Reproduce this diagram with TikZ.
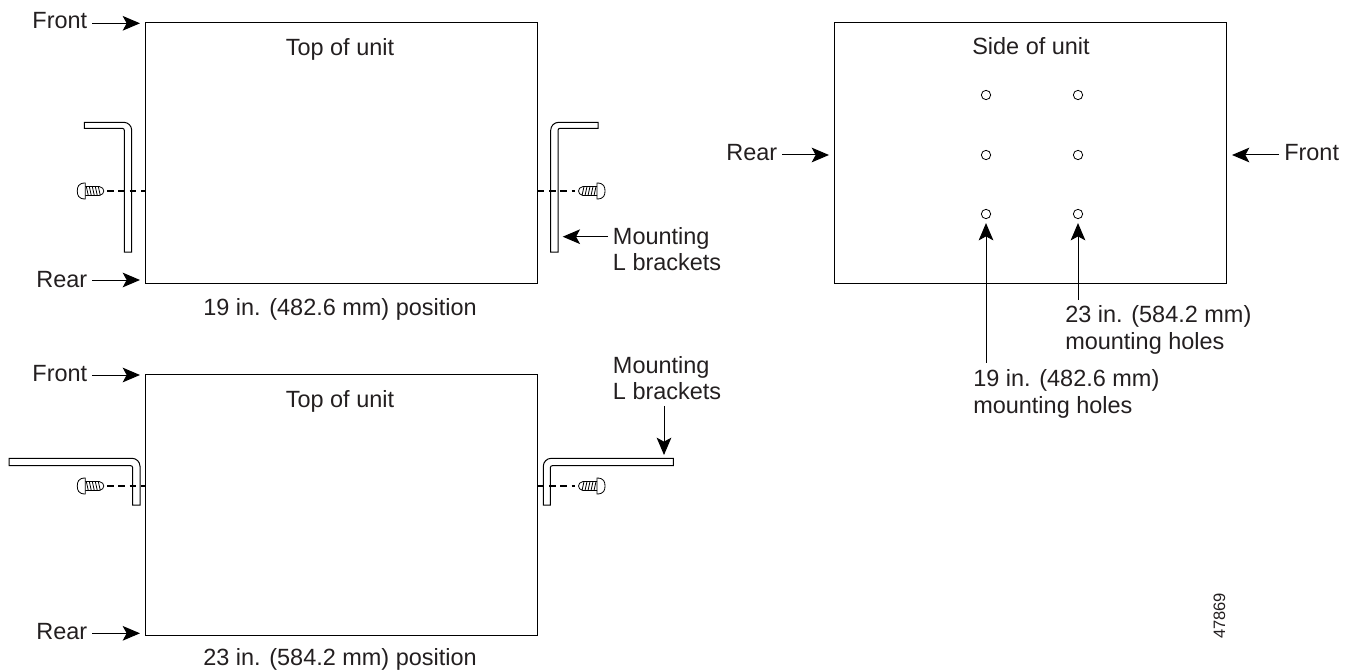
\documentclass[tikz,border=0pt]{standalone}
\usepackage{fontspec}
\setmainfont{Liberation Sans}
\usetikzlibrary{arrows.meta}
\definecolor{inkc}{HTML}{231F20}
\tikzset{
  x=0.75pt,y=-0.75pt,
  lbl/.style={inner sep=0pt,font=\fontsize{17.6pt}{20pt}\selectfont,align=left,text=inkc},
  unitbox/.style={draw=black,line width=0.75pt,minimum width=294pt,minimum height=195.8pt,inner sep=0pt,outer sep=0pt},
  hole/.style={circle,draw=black,line width=0.6pt,minimum size=7pt,inner sep=0pt},
  arr/.style={draw=black,line width=0.75pt,-{Stealth[length=13pt,width=11pt,inset=3pt]}},
  brk/.style={draw=black,line width=0.75pt},
  dsh/.style={draw=black,line width=0.8pt,dash pattern=on 5pt off 3.5pt},
  pics/screw/.style={code={
    \draw[line width=0.6pt] (8,-8) .. controls (1,-8) and (0,-4) .. (0,0) .. controls (0,4) and (1,8) .. (8,8) -- cycle;
    \draw[line width=0.6pt] (8,-4.5) -- (22,-4.5) .. controls (28,-3.5) and (28,3.5) .. (22,4.5) -- (8,4.5);
    \foreach \i in {9,12,...,21} {\draw[line width=0.6pt] (\i,-4.5) -- (\i+2,4.5);}
  }}
}
\begin{document}
\begin{tikzpicture}
\useasboundingbox (0,0) rectangle (1351,670);
% units
\node[unitbox,anchor=north west] (u1) at (145.7,22.6) {};
\node[unitbox,anchor=north west] (u2) at (145.7,374) {};
\node[unitbox,anchor=north west] (u3) at (834,22.6) {};
\node[lbl,anchor=base] (t1) at (340,55.5) {Top of unit};
\node[lbl,anchor=base] (t2) at (340,407) {Top of unit};
\node[lbl,anchor=base] (t3) at (1031,54.5) {Side of unit};
\node[lbl,anchor=base] (c1) at (340,315) {19 in. (482.6 mm) position};
\node[lbl,anchor=base] (c2) at (340,665) {23 in. (584.2 mm) position};
% front/rear labels
\node[lbl,anchor=base east] (f1) at (87.5,29) {Front};
\node[lbl,anchor=base east] (r1) at (87.5,287) {Rear};
\node[lbl,anchor=base east] (f2) at (87.5,381) {Front};
\node[lbl,anchor=base east] (r2) at (87.5,639) {Rear};
\node[lbl,anchor=base east] (r3) at (777.5,161) {Rear};
\node[lbl,anchor=base west] (f3) at (1284,161) {Front};
\coordinate (af1) at (140,23.3);
\coordinate (ar1) at (140,280);
\coordinate (af2) at (140,375);
\coordinate (ar2) at (140,633.3);
\coordinate (ar3) at (829,155);
\coordinate (af3) at (1232,155);
\draw[arr] ([xshift=3.7pt]f1.east |- af1) -- (af1);
\draw[arr] ([xshift=3.7pt]r1.east |- ar1) -- (ar1);
\draw[arr] ([xshift=3.7pt]f2.east |- af2) -- (af2);
\draw[arr] ([xshift=3.7pt]r2.east |- ar2) -- (ar2);
\draw[arr] ([xshift=3.7pt]r3.east |- ar3) -- (ar3);
\draw[arr] ([xshift=-3.7pt]f3.west |- af3) -- (af3);
% dashed screw lines
\draw[dsh] (107,191) -- (145.7,191);
\draw[dsh] (537.7,191) -- (575,191);
\draw[dsh] (107,486) -- (145.7,486);
\draw[dsh] (537.7,486) -- (575,486);
% brackets (19 in.)
\draw[brk] (84.3,122.3) -- (84.3,128.3) [rounded corners=1.5pt] -- (124.3,128.3) [sharp corners] -- (124.3,252) -- (131.7,252) [rounded corners=6pt] -- (131.7,122.3) [sharp corners] -- cycle;
\draw[brk] (598,122.3) -- (598,128.3) [rounded corners=1.5pt] -- (558,128.3) [sharp corners] -- (558,252) -- (550.7,252) [rounded corners=6pt] -- (550.7,122.3) [sharp corners] -- cycle;
% brackets (23 in.)
\draw[brk] (9,458.3) -- (9,465.7) [rounded corners=1.5pt] -- (132.7,465.7) [sharp corners] -- (132.7,505) -- (140,505) [rounded corners=6pt] -- (140,458.3) [sharp corners] -- cycle;
\draw[brk] (673.3,458.3) -- (673.3,465.7) [rounded corners=1.5pt] -- (550.3,465.7) [sharp corners] -- (550.3,505) -- (543.3,505) [rounded corners=6pt] -- (543.3,458.3) [sharp corners] -- cycle;
% screws
\pic at (77.3,191) {screw};
\pic[xscale=-1] at (605,191) {screw};
\pic at (77.3,486) {screw};
\pic[xscale=-1] at (605,486) {screw};
% holes
\node[hole] (h1) at (986,95) {};
\node[hole] (h2) at (1078,95) {};
\node[hole] (h3) at (986,155) {};
\node[hole] (h4) at (1078,155) {};
\node[hole] (h5) at (986,214) {};
\node[hole] (h6) at (1078,214) {};
% bracket callouts
\node[lbl,anchor=north west] (m1) at (612.7,227) {Mounting\\L brackets};
\coordinate (am1) at (562.7,236.7);
\draw[arr] ([xshift=-3.5pt]m1.west |- am1) -- (am1);
\node[lbl,anchor=north west] (m2) at (612.7,356) {Mounting\\L brackets};
\coordinate (am2) at (664,455);
\draw[arr] ([yshift=-4pt]am2 |- m2.south) -- (am2);
% hole callouts
\node[lbl,anchor=north west] (n1) at (1065,305.6) {23 in. (584.2 mm)\\mounting holes};
\node[lbl,anchor=north west] (n2) at (973,369.6) {19 in. (482.6 mm)\\mounting holes};
\draw[arr] ([yshift=4.2pt]h6 |- n1.north) -- ([yshift=-3pt]h6.south);
\draw[arr] ([yshift=5.2pt]h5 |- n2.north) -- ([yshift=-3pt]h5.south);
% figure number
\node[inner sep=0pt,rotate=90,text=inkc,font=\fontsize{12.4pt}{14pt}\selectfont] (id) at (1219.5,616) {47869};
\end{tikzpicture}
\end{document}
